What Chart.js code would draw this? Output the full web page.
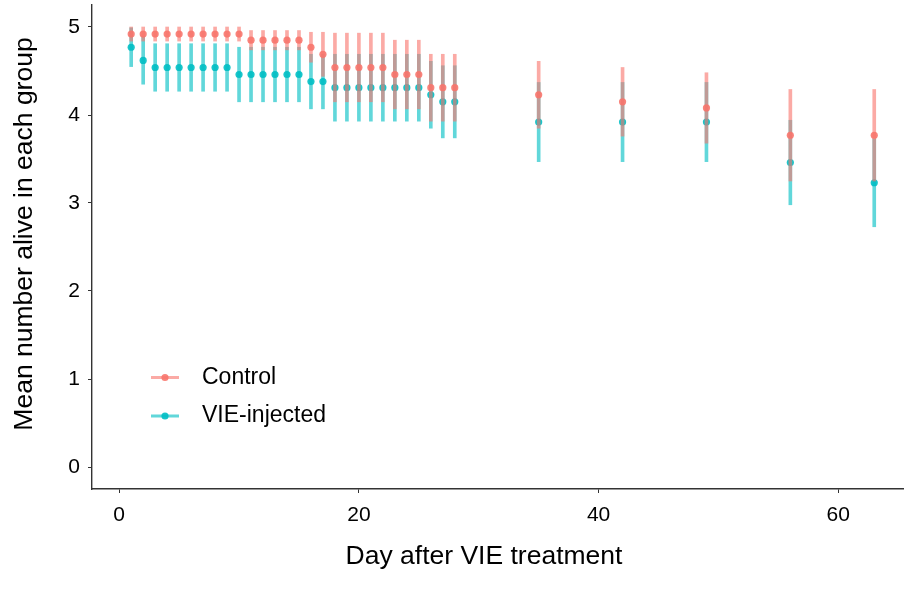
<!DOCTYPE html>
<html>
<head>
<meta charset="utf-8">
<script src="https://cdn.jsdelivr.net/npm/chart.js@4.4.1/dist/chart.umd.min.js"></script>
<style>
  html, body { margin: 0; padding: 0; background: #fff; }
  #wrap { position: relative; width: 907px; height: 589px; }
</style>
</head>
<body>
<div id="wrap"><canvas id="chart"></canvas></div>
<script>
// ── data ──
const days = [1, 2, 3, 4, 5, 6, 7, 8, 9, 10, 11, 12, 13, 14, 15, 16, 17, 18, 19, 20,
  21, 22, 23, 24, 25, 26, 27, 28, 35, 42, 49, 56, 63];

const controlMean = [4.92, 4.92, 4.92, 4.92, 4.92, 4.92, 4.92, 4.92, 4.92, 4.92,
  4.85, 4.85, 4.85, 4.85, 4.85, 4.77, 4.69, 4.54, 4.54, 4.54,
  4.54, 4.54, 4.46, 4.46, 4.46, 4.31, 4.31, 4.31, 4.23, 4.15, 4.08, 3.77, 3.77];
const controlErr = [0.08, 0.08, 0.08, 0.08, 0.08, 0.08, 0.08, 0.08, 0.08, 0.08,
  0.11, 0.11, 0.11, 0.11, 0.11, 0.17, 0.25, 0.39, 0.39, 0.39,
  0.39, 0.39, 0.39, 0.39, 0.39, 0.38, 0.38, 0.38, 0.38, 0.39, 0.40, 0.52, 0.52];

const vieMean = [4.77, 4.62, 4.54, 4.54, 4.54, 4.54, 4.54, 4.54, 4.54, 4.46,
  4.46, 4.46, 4.46, 4.46, 4.46, 4.38, 4.38, 4.31, 4.31, 4.31,
  4.31, 4.31, 4.31, 4.31, 4.31, 4.23, 4.15, 4.15, 3.92, 3.92, 3.92, 3.46, 3.23];
const vieErr = [0.22, 0.27, 0.27, 0.27, 0.27, 0.27, 0.27, 0.27, 0.27, 0.31,
  0.31, 0.31, 0.31, 0.31, 0.31, 0.31, 0.31, 0.38, 0.38, 0.38,
  0.38, 0.38, 0.38, 0.38, 0.38, 0.38, 0.41, 0.41, 0.45, 0.45, 0.45, 0.48, 0.50];

const seriesNames = ['Control', 'VIE-injected'];
const xTicks = [0, 20, 40, 60];
const yTicks = [0, 1, 2, 3, 4, 5];
const xTitle = 'Day after VIE treatment';
const yTitle = 'Mean number alive in each group';

const RED = '248,118,109';
const TEAL = '0,191,196';
const AXIS = '#333333';
const FONT = '"Liberation Sans", Arial, Helvetica, sans-serif';

Chart.defaults.font.family = FONT;
Chart.defaults.color = '#000';

const points = (means) => days.map((d, i) => ({ x: d, y: means[i] }));
const ranges = (means, errs) => days.map((d, i) => ({ x: d, y: [means[i] - errs[i], means[i] + errs[i]] }));

const errorBars = (label, rgb, means, errs, order) => ({
  type: 'bar',
  label,
  data: ranges(means, errs),
  backgroundColor: `rgba(${rgb},0.62)`,
  borderWidth: 0,
  barThickness: 3,
  grouped: false,
  order
});

const dots = (label, rgb, means, order) => ({
  type: 'scatter',
  label,
  data: points(means),
  pointRadius: 3.6,
  pointBackgroundColor: `rgba(${rgb},0.9)`,
  pointBorderWidth: 0,
  order
});

// axis titles + legend inside the panel, placed like the ggplot original
const annotations = {
  id: 'annotations',
  afterDraw(chart) {
    const { ctx } = chart;
    const colors = [RED, TEAL];
    ctx.save();
    ctx.fillStyle = '#000';
    ctx.font = `26.5px ${FONT}`;
    ctx.textAlign = 'center';
    ctx.textBaseline = 'alphabetic';
    ctx.fillText(xTitle, 484, 564);
    ctx.save();
    ctx.translate(32, 234);
    ctx.rotate(-Math.PI / 2);
    ctx.fillText(yTitle, 0, 0);
    ctx.restore();

    ctx.textAlign = 'left';
    ctx.textBaseline = 'middle';
    ctx.font = `23px ${FONT}`;
    seriesNames.forEach((name, i) => {
      const y = 377.5 + i * 38.5;
      ctx.strokeStyle = `rgba(${colors[i]},0.62)`;
      ctx.lineWidth = 3;
      ctx.beginPath();
      ctx.moveTo(151, y);
      ctx.lineTo(179, y);
      ctx.stroke();
      ctx.fillStyle = `rgba(${colors[i]},0.9)`;
      ctx.beginPath();
      ctx.arc(165, y, 3.6, 0, Math.PI * 2);
      ctx.fill();
      ctx.fillStyle = '#000';
      ctx.fillText(name, 202, y);
    });
    ctx.restore();
  }
};

new Chart(document.getElementById('chart'), {
  type: 'scatter',
  data: {
    datasets: [
      dots(seriesNames[0], RED, controlMean, 0),
      errorBars(seriesNames[0], RED, controlMean, controlErr, 1),
      dots(seriesNames[1], TEAL, vieMean, 2),
      errorBars(seriesNames[1], TEAL, vieMean, vieErr, 3)
    ]
  },
  options: {
    responsive: true,
    maintainAspectRatio: false,
    animation: false,
    layout: { padding: { top: 5, right: 0, left: 0, bottom: 0 } },
    plugins: {
      legend: { display: false },
      tooltip: { enabled: false }
    },
    scales: {
      x: {
        type: 'linear',
        min: -2.27,
        max: 65.4,
        offset: false,
        afterFit: s => { s.height = 100; s.paddingLeft = 0; s.paddingRight = 0; },
        afterBuildTicks: s => { s.ticks = xTicks.map(v => ({ value: v })); },
        grid: { offset: false, drawOnChartArea: false, drawTicks: true, tickLength: 4, color: AXIS, lineWidth: 1 },
        border: { display: true, color: AXIS, width: 1.4 },
        ticks: { font: { size: 21 }, color: '#000', padding: 10, maxRotation: 0 }
      },
      y: {
        type: 'linear',
        min: -0.25,
        max: 5.25,
        offset: false,
        afterFit: s => { s.width = 92; s.paddingTop = 0; s.paddingBottom = 0; },
        afterBuildTicks: s => { s.ticks = yTicks.map(v => ({ value: v })); },
        grid: { offset: false, drawOnChartArea: false, drawTicks: true, tickLength: 4, color: AXIS, lineWidth: 1 },
        border: { display: true, color: AXIS, width: 1.4 },
        ticks: { font: { size: 21 }, color: '#000', padding: 8 }
      }
    }
  },
  plugins: [annotations]
});
</script>
</body>
</html>
